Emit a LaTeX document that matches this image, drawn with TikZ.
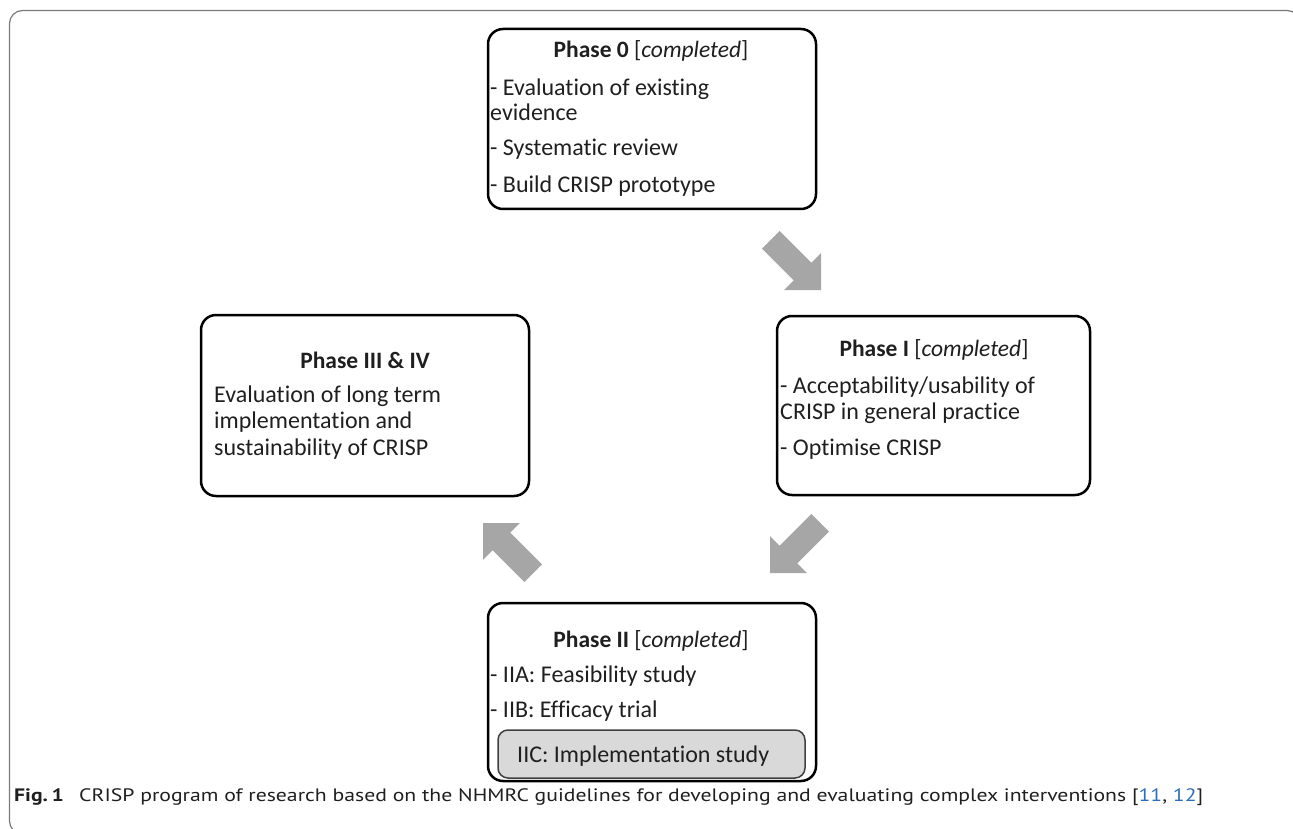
\documentclass[tikz,border=0pt]{standalone}
\usepackage{fontspec}
\setmainfont[Ligatures=NoCommon]{Carlito}
\newfontfamily\capfont{PT Sans}
\usepackage{graphicx}
\definecolor{arrowgray}{HTML}{A6A6A6}
\definecolor{innergray}{HTML}{D9D9D9}
\definecolor{framegray}{HTML}{7A7A7A}
\definecolor{citeblue}{HTML}{2A6EBB}
\tikzset{
  phasebox/.style={draw=black, line width=2.5pt, rounded corners=15pt, inner sep=0pt},
  innerbox/.style={draw=black!75, line width=1.5pt, fill=innergray, rounded corners=10pt, inner sep=0pt},
  boxtext/.style={anchor=base west, inner sep=0pt, font=\fontsize{24}{26}\selectfont, text=black!88},
  titletext/.style={anchor=base, inner sep=0pt, font=\fontsize{23.5}{26}\selectfont, text=black!88},
  blockarrow/.pic={
    \fill[arrowgray] (0pt,0pt) -- (26pt,26pt) -- (26pt,12.5pt) -- (71pt,12.5pt)
      -- (71pt,-12.5pt) -- (26pt,-12.5pt) -- (26pt,-26pt) -- cycle;
  }
}
\begin{document}
\begin{tikzpicture}[x=1pt, y=-1pt]
\useasboundingbox (0,0) rectangle (1293,829);
\begin{scope}
\clip (0,0) rectangle (1293,829);
\draw[framegray, line width=1.2pt, rounded corners=13pt] (9.5,10.5) rectangle (1300,834);
\end{scope}

% boxes
\node[phasebox, minimum width=328pt, minimum height=180pt] (p0) at (652,119) {};
\node[phasebox, minimum width=313pt, minimum height=179pt] (p1) at (933.5,405.5) {};
\node[phasebox, minimum width=328pt, minimum height=181pt] (p3) at (365,405.5) {};
\node[phasebox, minimum width=328pt, minimum height=178pt] (p2) at (652,692) {};
\node[innerbox, minimum width=307pt, minimum height=48pt] (p2c) at (651.5,754) {};

% Phase 0
\node[titletext] (t0) at (651,58) {\textbf{Phase 0} [\textit{completed}]};
\node[boxtext] (t0a) at (490,96) {- Evaluation of existing};
\node[boxtext] (t0b) at (490,121) {evidence};
\node[boxtext] (t0c) at (490,156) {- Systematic review};
\node[boxtext] (t0d) at (490,193) {- Build CRISP prototype};

% Phase I
\node[titletext] (t1) at (934,356) {\textbf{Phase I} [\textit{completed}]};
\node[boxtext] (t1a) at (780,393) {- Acceptability/usability of};
\node[boxtext] (t1b) at (780,419) {CRISP in general practice};
\node[boxtext] (t1c) at (780,455) {- Optimise CRISP};

% Phase III & IV
\node[titletext] (t3) at (365,368) {\textbf{Phase III \& IV}};
\node[boxtext] (t3a) at (214,402) {Evaluation of long term};
\node[boxtext] (t3b) at (214,428) {implementation and};
\node[boxtext] (t3c) at (214,455) {sustainability of CRISP};

% Phase II
\node[titletext] (t2) at (651,647) {\textbf{Phase II} [\textit{completed}]};
\node[boxtext] (t2a) at (490,682) {- IIA: Feasibility study};
\node[boxtext] (t2b) at (490,717) {- IIB: Efficacy trial};
\node[boxtext] (t2c) at (517,762) {IIC: Implementation study};

% block arrows
\pic[rotate=135] at (821,290) {blockarrow};
\pic[rotate=45] at (770,573) {blockarrow};
\pic[rotate=-45] at (483,523) {blockarrow};

% caption
\node[anchor=base west, inner sep=0pt, text=black!88] (cap) at (14,801)
  {\resizebox{1189pt}{\height}{\capfont\fontsize{18}{20}\selectfont\textbf{Fig.\,1}\hspace{0.7em}CRISP program of research based on the NHMRC guidelines for developing and evaluating complex interventions [\textcolor{citeblue}{11}, \textcolor{citeblue}{12}]}};
\end{tikzpicture}
\end{document}
